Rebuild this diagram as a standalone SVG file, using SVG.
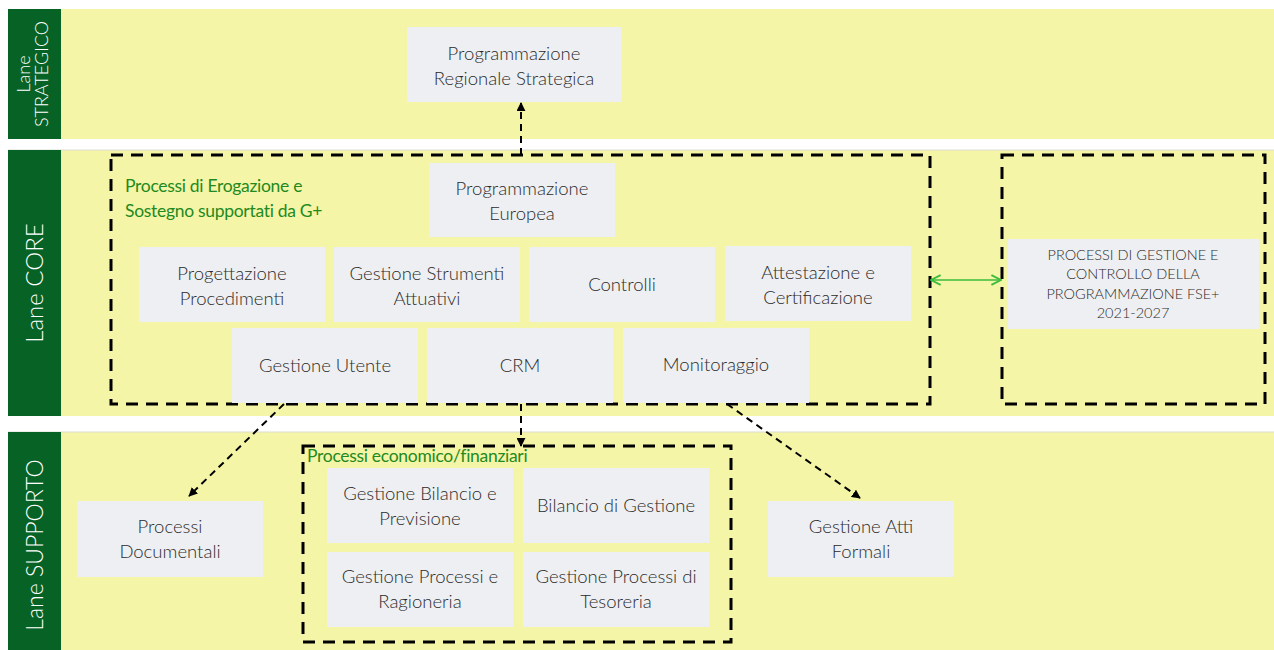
<svg xmlns="http://www.w3.org/2000/svg" width="1274" height="650" viewBox="0 0 1274 650">
<style>
.lane{fill:#f4f5a6}
.head{fill:#066325}
.ht{fill:#ffffff;font-family:Lato,"Open Sans",sans-serif;font-weight:300}
.node{fill:#eeeff2}
.nt{fill:#2b2b2b;font-family:Lato,"Open Sans",sans-serif;font-weight:300;font-size:18.5px;text-anchor:middle}
.nts{fill:#2b2b2b;font-family:Lato,"Open Sans",sans-serif;font-weight:300;font-size:14.5px;text-anchor:middle}
.grp{fill:none;stroke:#000;stroke-width:3;stroke-dasharray:12 8}
.gl{fill:#1f8a1f;font-family:Lato,"Open Sans",sans-serif;font-weight:400;font-size:17.5px;letter-spacing:-0.3px}
.con{fill:none;stroke:#000;stroke-width:2;stroke-dasharray:7 5}
</style>
<defs>
<marker id="ah" viewBox="0 0 10 10" refX="9" refY="5" markerWidth="9" markerHeight="9" orient="auto-start-reverse" markerUnits="userSpaceOnUse">
<path d="M0,0 L10,5 L0,10 z" fill="#000"/>
</marker>
<marker id="ga" viewBox="0 0 10 10" refX="9" refY="5" markerWidth="12" markerHeight="12" orient="auto-start-reverse" markerUnits="userSpaceOnUse">
<path d="M1,1 L9,5 L1,9" fill="none" stroke="#3dbb3d" stroke-width="1.6"/>
</marker>
</defs>
<rect width="1274" height="650" fill="#ffffff"/>
<g id="lane-strategico">
<rect class="lane" x="8" y="9" width="1266" height="130"/>
<rect class="head" x="8" y="9" width="53" height="130"/>
<text class="ht" font-size="18" text-anchor="middle" transform="translate(34,74) rotate(-90)"><tspan x="0" y="-4">Lane</tspan><tspan x="0" y="14">STRATEGICO</tspan></text>
</g>
<g id="lane-core">
<rect class="lane" x="8" y="150" width="1266" height="266"/>
<line x1="8" y1="150" x2="1274" y2="150" stroke="#dcdcd0" stroke-width="1"/>
<rect class="head" x="8" y="150" width="53" height="266"/>
<text class="ht" font-size="24" text-anchor="middle" transform="translate(43,283) rotate(-90)">Lane CORE</text>
</g>
<g id="lane-supporto">
<rect class="lane" x="8" y="432" width="1266" height="218"/>
<line x1="8" y1="432" x2="1274" y2="432" stroke="#dcdcd0" stroke-width="1"/>
<rect class="head" x="8" y="432" width="53" height="218"/>
<text class="ht" font-size="23" text-anchor="middle" transform="translate(43,545) rotate(-90)">Lane SUPPORTO</text>
</g>
<g id="group-erogazione">
<rect class="grp" x="111" y="155" width="819" height="249"/>
<text class="gl" x="125" y="192">Processi di Erogazione e</text>
<text class="gl" x="125" y="217">Sostegno supportati da G+</text>
</g>
<g id="group-fse">
<rect class="grp" x="1002" y="155" width="263" height="249"/>
</g>
<g id="group-finanziari">
<rect class="grp" x="303" y="446" width="428" height="196"/>
<text class="gl" x="307" y="462" font-size="16.5">Processi economico/finanziari</text>
</g>
<g id="n-prs"><rect class="node" x="407" y="27" width="214" height="75"/><text class="nt" x="514" y="60">Programmazione</text><text class="nt" x="514" y="85">Regionale Strategica</text></g>
<g id="n-pe"><rect class="node" x="429" y="163" width="186" height="74"/><text class="nt" x="522" y="195">Programmazione</text><text class="nt" x="522" y="220">Europea</text></g>
<g id="n-pp"><rect class="node" x="139" y="247" width="186" height="75"/><text class="nt" x="232" y="280">Progettazione</text><text class="nt" x="232" y="305">Procedimenti</text></g>
<g id="n-gsa"><rect class="node" x="334" y="247" width="186" height="75"/><text class="nt" x="427" y="280">Gestione Strumenti</text><text class="nt" x="427" y="305">Attuativi</text></g>
<g id="n-contr"><rect class="node" x="529" y="247" width="186" height="75"/><text class="nt" x="622" y="291">Controlli</text></g>
<g id="n-att"><rect class="node" x="725" y="246" width="186" height="75"/><text class="nt" x="818" y="279">Attestazione e</text><text class="nt" x="818" y="304">Certificazione</text></g>
<g id="n-gu"><rect class="node" x="232" y="328" width="186" height="75"/><text class="nt" x="325" y="372">Gestione Utente</text></g>
<g id="n-crm"><rect class="node" x="427" y="328" width="186" height="75"/><text class="nt" x="520" y="372">CRM</text></g>
<g id="n-mon"><rect class="node" x="623" y="328" width="186" height="75"/><text class="nt" x="716" y="371">Monitoraggio</text></g>
<g id="n-fse"><rect class="node" x="1008" y="239" width="251" height="90"/><text class="nts" x="1133" y="260">PROCESSI DI GESTIONE E</text><text class="nts" x="1133" y="279">CONTROLLO DELLA</text><text class="nts" x="1133" y="299">PROGRAMMAZIONE FSE+</text><text class="nts" x="1133" y="318">2021-2027</text></g>
<g id="n-doc"><rect class="node" x="77" y="501" width="186" height="76"/><text class="nt" x="170" y="533">Processi</text><text class="nt" x="170" y="558">Documentali</text></g>
<g id="n-gbp"><rect class="node" x="327" y="468" width="186" height="75"/><text class="nt" x="420" y="500">Gestione Bilancio e</text><text class="nt" x="420" y="525">Previsione</text></g>
<g id="n-bdg"><rect class="node" x="523" y="468" width="186" height="75"/><text class="nt" x="616" y="512">Bilancio di Gestione</text></g>
<g id="n-gpr"><rect class="node" x="327" y="552" width="186" height="75"/><text class="nt" x="420" y="583">Gestione Processi e</text><text class="nt" x="420" y="608">Ragioneria</text></g>
<g id="n-gpt"><rect class="node" x="523" y="552" width="186" height="75"/><text class="nt" x="616" y="583">Gestione Processi di</text><text class="nt" x="616" y="608">Tesoreria</text></g>
<g id="n-gaf"><rect class="node" x="768" y="501" width="186" height="76"/><text class="nt" x="861" y="533">Gestione Atti</text><text class="nt" x="861" y="558">Formali</text></g>
<g id="connectors">
<line class="con" x1="521" y1="155" x2="521" y2="103" marker-end="url(#ah)"/>
<line class="con" x1="284" y1="404" x2="189" y2="496" marker-end="url(#ah)"/>
<line class="con" x1="521" y1="404" x2="521" y2="446" marker-end="url(#ah)"/>
<line class="con" x1="727" y1="404" x2="860" y2="498" marker-end="url(#ah)"/>
<line x1="931" y1="280" x2="1001" y2="280" stroke="#3dbb3d" stroke-width="1.6" marker-start="url(#ga)" marker-end="url(#ga)"/>
</g>
</svg>
